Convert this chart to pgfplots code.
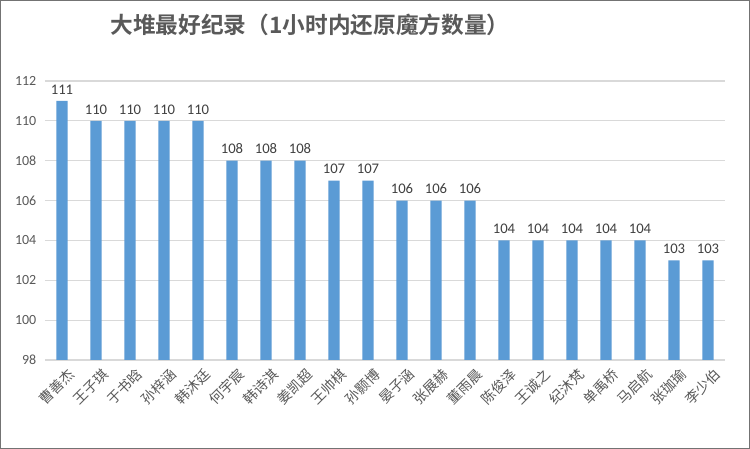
\documentclass[border=0pt]{standalone}
\usepackage{pgfplots}
\pgfplotsset{compat=1.18}
\usepackage{fontspec}
\setmainfont{Carlito}
\newfontfamily\cjk{Noto Sans CJK SC}
\newfontfamily\cjkb{Noto Sans CJK SC Bold}
\definecolor{barblue}{HTML}{5B9BD5}
\definecolor{gridgray}{HTML}{D9D9D9}
\definecolor{txtgray}{HTML}{595959}
\begin{document}
\begin{tikzpicture}
\draw[draw=none,fill=white] (0,0) rectangle (562.5pt,336.75pt);
\draw[color=black!55,line width=1pt] (0.5pt,0.5pt) rectangle (562pt,336.25pt);
\begin{axis}[
  at={(33.75pt,66.75pt)}, anchor=south west,
  scale only axis, width=510pt, height=209.25pt,
  xmin=-0.5, xmax=19.5, ymin=98, ymax=112,
  ytick={98,100,...,112},
  xtick={0,...,19},
  xticklabels={曹善杰,王子琪,于书晗,孙梓涵,韩沐廷,何宇宸,韩诗淇,姜凯超,王帅棋,孙颢博,晏子涵,张展赫,董雨晨,陈俊泽,王诚之,纪沐梵,单禹桥,马启航,张珈瑜,李少伯},
  xticklabel style={rotate=45, anchor=north east, font=\cjk\fontsize{10.5}{12}\selectfont, text=txtgray, inner sep=1pt, xshift=3pt, yshift=-2pt},
  yticklabel style={font=\fontsize{10.5}{12}\selectfont, text=txtgray, xshift=-3pt},
  /pgf/number format/assume math mode=true,
  ymajorgrids, grid style={gridgray, line width=0.8pt},
  axis line style={draw=none},
  major tick style={draw=none},
  ybar, bar width=8.5pt,
  nodes near coords,
  nodes near coords style={font=\fontsize{11}{12}\selectfont, text=black!75, yshift=1.5pt},
  clip=false,
]
\addplot[draw=none, fill=barblue] coordinates {
(0,111) (1,110) (2,110) (3,110) (4,110) (5,108) (6,108) (7,108) (8,107) (9,107)
(10,106) (11,106) (12,106) (13,104) (14,104) (15,104) (16,104) (17,104) (18,103) (19,103)};
\end{axis}
\node[font=\cjkb\fontsize{17}{20}\selectfont, text=txtgray] at (232.5pt,318pt) {大堆最好纪录（1小时内还原魔方数量）};
\end{tikzpicture}
\end{document}
